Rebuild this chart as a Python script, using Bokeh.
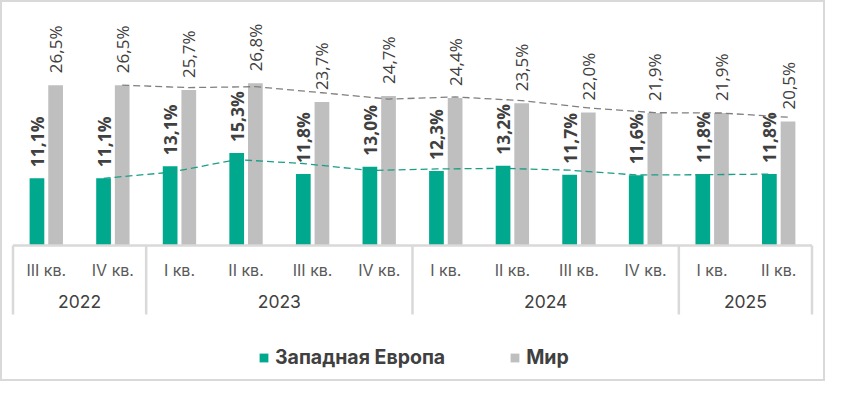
import math
from bokeh.plotting import figure
from bokeh.models import Range1d, ColumnDataSource, Legend, LegendItem
from bokeh.core.properties import value
from bokeh.embed import file_html
from bokeh.resources import INLINE

# ---- data ----
quarters = ["III кв.", "IV кв.", "I кв.", "II кв.", "III кв.", "IV кв.",
            "I кв.", "II кв.", "III кв.", "IV кв.", "I кв.", "II кв."]
years = ["2022", "2023", "2024", "2025"]
year_sizes = [2, 4, 4, 2]
west_europe = [11.1, 11.1, 13.1, 15.3, 11.8, 13.0, 12.3, 13.2, 11.7, 11.6, 11.8, 11.8]
world = [26.5, 26.5, 25.7, 26.8, 23.7, 24.7, 24.4, 23.5, 22.0, 21.9, 21.9, 20.5]
series_names = ["Западная Европа", "Мир"]

# ---- styling / layout ----
W, H = 825, 381
BASE = 245.0      # baseline px from top
K = 6.05          # px per percent
LEFT, RIGHT = 12.5, 811.5
n = len(quarters)
cw = (RIGHT - LEFT) / n
GREEN = "#00a88e"
GREY = "#bfbfbf"
TXT = "#404040"
AX = "#d9d9d9"
OFF = 0.14
BW = 0.221


def ypx(px):
    return (BASE - px) / K


x_start = -0.5 - LEFT / cw
x_end = n - 0.5 + (W - RIGHT) / cw

p = figure(width=W, height=H, x_range=Range1d(x_start, x_end),
           y_range=Range1d(ypx(H), ypx(0)),
           output_backend="svg", toolbar_location=None, min_border=0,
           x_axis_location=None, y_axis_location=None)
p.grid.visible = False
p.outline_line_color = AX
p.outline_line_width = 3
p.background_fill_color = "white"
p.border_fill_color = "white"

idx = list(range(n))
fmt = lambda v: f"{v:.1f}".replace(".", ",") + "%"
src = ColumnDataSource(dict(
    xg=[i - OFF for i in idx], xw=[i + OFF for i in idx],
    g=west_europe, w=world,
    lg=[fmt(v) for v in west_europe], lw=[fmt(v) for v in world],
))

rg = p.vbar(x="xg", top="g", bottom=0, width=BW, source=src,
            fill_color=GREEN, line_color=None)
rw = p.vbar(x="xw", top="w", bottom=0, width=BW, source=src,
            fill_color=GREY, line_color=None)

# moving-average (2 periods) trendlines
ma_g = [(a + b) / 2 for a, b in zip(west_europe[:-1], west_europe[1:])]
ma_w = [(a + b) / 2 for a, b in zip(world[:-1], world[1:])]
p.line([i - OFF for i in idx[1:]], ma_g, line_color="#1a9e86", line_width=1.3,
       line_dash="7 4")
p.line([i + OFF for i in idx[1:]], ma_w, line_color="#7f7f7f", line_width=1.3,
       line_dash="7 4")

# value labels
p.text(x="xg", y="g", text="lg", source=src, angle=math.pi / 2,
       text_align="left", text_baseline="middle", y_offset=-11,
       text_font=value("Open Sans"), text_font_size="17.5px",
       text_font_style="bold", text_color=TXT)
p.text(x="xw", y="w", text="lw", source=src, angle=math.pi / 2,
       text_align="left", text_baseline="middle", y_offset=-12,
       text_font=value("Open Sans"), text_font_size="17px",
       text_color=TXT)

# category axis
p.segment(x0=[-0.5], y0=[0], x1=[n - 0.5], y1=[0], line_color=AX, line_width=2.5)
bounds = [-0.5]
for s in year_sizes:
    bounds.append(bounds[-1] + s)
p.segment(x0=bounds, y0=[0] * len(bounds), x1=bounds,
          y1=[ypx(314)] * len(bounds), line_color=AX, line_width=2.5)
p.text(x=idx, y=[ypx(269)] * n, text=quarters, text_align="center",
       text_baseline="middle", text_font=value("Inter"),
       text_font_size="16px", text_color="#595959")
ycent = [(bounds[i] + bounds[i + 1]) / 2 for i in range(len(years))]
p.text(x=ycent, y=[ypx(301)] * len(years), text=years, text_align="center",
       text_baseline="middle", text_font=value("Inter"),
       text_font_size="17.5px", text_color=TXT)

legend = Legend(items=[LegendItem(label=series_names[0], renderers=[rg]),
                       LegendItem(label=series_names[1], renderers=[rw])],
                orientation="horizontal", location=(258, 12),
                padding=0, margin=0, spacing=64,
                glyph_width=11, glyph_height=11, label_standoff=6,
                label_text_font="Inter", label_text_font_size="19.5px",
                label_text_font_style="bold", label_text_color=TXT,
                border_line_color=None, background_fill_alpha=0)
p.add_layout(legend)

open("out.html", "w").write(file_html(p, INLINE))
